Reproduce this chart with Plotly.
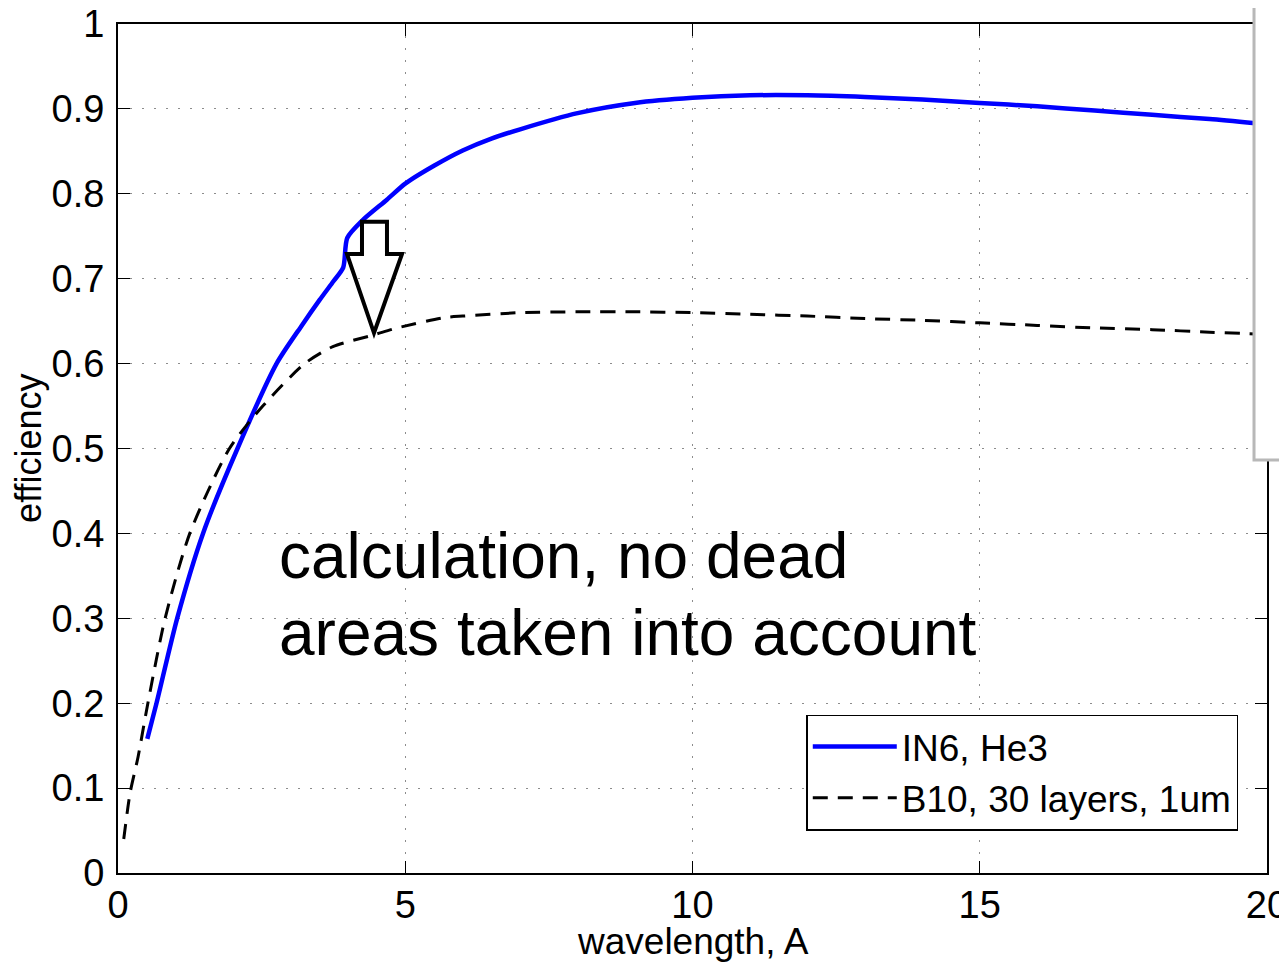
import plotly.graph_objects as go

# ---- data ----
in6_x = [0.51, 0.67, 1.03, 1.48, 2.08, 2.76, 3.2, 3.51, 3.75, 3.92, 3.99, 4.26, 4.68,
         5, 5.5, 6, 6.5, 7, 8, 9, 10, 11, 12, 13, 14, 15, 16, 17, 18, 19, 19.8]
in6_y = [0.158, 0.2, 0.3, 0.4, 0.5, 0.6, 0.645, 0.675, 0.697, 0.713, 0.748, 0.769, 0.793,
         0.812, 0.833, 0.851, 0.865, 0.876, 0.895, 0.907, 0.913, 0.916, 0.916, 0.914,
         0.911, 0.907, 0.903, 0.898, 0.893, 0.888, 0.883]

b10_x = [0.1, 0.21, 0.35, 0.52, 0.82, 1.25, 1.94, 2.52, 3.25, 3.74, 4.46, 4.86, 5.66,
         6, 7, 8, 9, 10, 11, 12, 13, 14, 15, 16, 17, 18, 19, 19.8]
b10_y = [0.04, 0.094, 0.137, 0.2, 0.3, 0.4, 0.5, 0.55, 0.6, 0.62, 0.634, 0.642, 0.654,
         0.656, 0.66, 0.661, 0.661, 0.66, 0.658, 0.656, 0.653, 0.651, 0.648, 0.645,
         0.642, 0.64, 0.637, 0.635]

series_names = ["IN6, He3", "B10, 30 layers, 1um"]
x_ticks = [0, 5, 10, 15, 20]
y_ticks = [0, 0.1, 0.2, 0.3, 0.4, 0.5, 0.6, 0.7, 0.8, 0.9, 1]
x_title = "wavelength, A"
y_title = "efficiency"
annotation_lines = ["calculation, no dead", "areas taken into account"]

# block arrow outline (data coordinates)
arrow_x = [4.247, 4.682, 4.682, 4.943, 4.456, 3.986, 4.247]
arrow_y = [0.767, 0.767, 0.729, 0.729, 0.636, 0.729, 0.729]

FONT = "Liberation Sans, Arial, Helvetica, sans-serif"

fig = go.Figure()
fig.add_trace(go.Scatter(x=in6_x, y=in6_y, mode="lines", name=series_names[0],
                         line=dict(color="#0000ff", width=4.5, shape="spline", smoothing=0.7)))
fig.add_trace(go.Scatter(x=b10_x, y=b10_y, mode="lines", name=series_names[1],
                         line=dict(color="black", width=3, dash="15px,10px",
                                   shape="spline", smoothing=0.7)))

path = "M " + " L ".join(f"{x},{y}" for x, y in zip(arrow_x, arrow_y)) + " Z"
fig.add_shape(type="path", path=path, xref="x", yref="y",
              line=dict(color="black", width=4), fillcolor="rgba(0,0,0,0)", layer="above")

# text annotation
fig.add_annotation(x=2.77, y=0.373, xref="x", yref="y", text=annotation_lines[0],
                   showarrow=False, xanchor="left", yanchor="middle",
                   font=dict(family=FONT, size=64, color="black"))
fig.add_annotation(x=2.77, y=0.283, xref="x", yref="y", text=annotation_lines[1],
                   showarrow=False, xanchor="left", yanchor="middle",
                   font=dict(family=FONT, size=64, color="black"))

# axis titles
fig.add_annotation(x=0.5, y=-0.081, xref="paper", yref="paper", text=x_title,
                   showarrow=False, xanchor="center", yanchor="middle", borderpad=0,
                   font=dict(family=FONT, size=37, color="black"))
fig.add_annotation(x=-0.078, y=0.5, xref="paper", yref="paper", text=y_title,
                   showarrow=False, xanchor="center", yanchor="middle", textangle=-90,
                   borderpad=0, font=dict(family=FONT, size=36, color="black"))

# overlapping window at the right edge of the screenshot
fig.add_shape(type="rect", xref="paper", yref="paper", x0=0.9887, x1=1.05, y0=0.4865, y1=1.1,
              line=dict(color="#b8b8b8", width=3), fillcolor="white", layer="above")

axis_common = dict(
    showline=True, linecolor="black", linewidth=2, mirror="ticks",
    ticks="inside", ticklen=12, tickwidth=1, tickcolor="black",
    showgrid=True, gridcolor="#8c8c8c", griddash="2px,10px", gridwidth=1.2,
    zeroline=False, automargin=False, ticklabeloverflow="allow",
    tickfont=dict(family=FONT, size=38, color="black"),
)

fig.update_xaxes(range=[0, 20], tickvals=x_ticks, ticktext=[str(v) for v in x_ticks],
                 ticklabelstandoff=-3, **axis_common)
fig.update_yaxes(range=[0, 1], tickvals=y_ticks, ticktext=[f"{v:g}" for v in y_ticks],
                 ticklabelstandoff=4, **axis_common)

fig.update_layout(
    width=1287, height=962,
    margin=dict(l=110, r=28, t=16, b=97),
    paper_bgcolor="white", plot_bgcolor="white",
    showlegend=True,
    legend=dict(x=0.975, y=0.05, xanchor="right", yanchor="bottom",
                bgcolor="white", bordercolor="black", borderwidth=1.5,
                font=dict(family=FONT, size=37, color="black"),
                itemwidth=84, tracegroupgap=0),
)

fig.write_html("out.html")
